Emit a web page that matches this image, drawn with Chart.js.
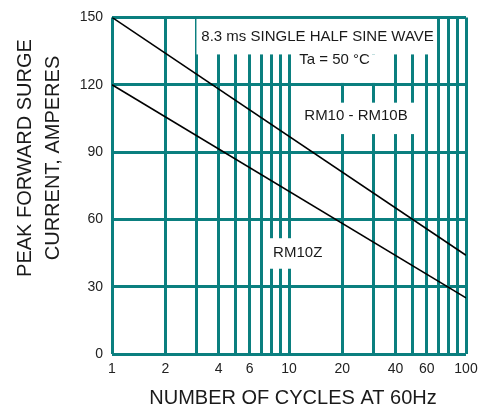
<!DOCTYPE html>
<html>
<head>
<meta charset="utf-8">
<script src="https://cdn.jsdelivr.net/npm/chart.js@4"></script>
<style>
html,body{margin:0;padding:0;background:#fff;}
#wrap{width:488px;height:412px;}
</style>
</head>
<body>
<div id="wrap"><canvas id="c" width="488" height="412"></canvas></div>
<script>
// ---- data ----
const cycles = [1, 100];
const rm10_rm10b = [150, 44];
const rm10z = [120, 25];
const xGridValues = [1, 2, 3, 4, 5, 6, 7, 8, 9, 10, 20, 30, 40, 50, 60, 70, 80, 90, 100];
const xTickLabels = [1, 2, 4, 6, 10, 20, 40, 60, 100];
const yTicks = [0, 30, 60, 90, 120, 150];
const seriesNames = ['RM10 - RM10B', 'RM10Z'];
const yTitle = ['PEAK FORWARD SURGE', 'CURRENT, AMPERES'];
const xTitle = 'NUMBER OF CYCLES AT 60Hz';
const noteLines = ['8.3 ms SINGLE HALF SINE WAVE', 'Ta = 50 \u00B0C'];

const TEAL = '#0b7f7f';
const FONT = "'Liberation Sans', Arial, sans-serif";

// annotation boxes (data coords): [xMin, xMax, yMin, yMax]
const whiteBoxes = [
  [3.0, 68, 133.5, 149.3],
  [11, 36, 120.8, 133.5],
  [11.5, 57, 98, 112],
  [7.4, 16.5, 38, 51.6]
];
// label anchors (data coords)
const labels = [
  {text: noteLines[0], x: 14.5, y: 141.2},
  {text: noteLines[1], x: 18.1, y: 131},
  {text: seriesNames[0], x: 23.9, y: 106},
  {text: seriesNames[1], x: 11.2, y: 45}
];

const annot = {
  id: 'annot',
  beforeDatasetsDraw(chart) {
    const {ctx, scales: {x, y}} = chart;
    ctx.save();
    ctx.fillStyle = '#fff';
    whiteBoxes.forEach(b => {
      const x0 = x.getPixelForValue(b[0]), x1 = x.getPixelForValue(b[1]);
      const y0 = y.getPixelForValue(b[3]), y1 = y.getPixelForValue(b[2]);
      ctx.fillRect(x0, y0, x1 - x0, y1 - y0);
    });
    ctx.restore();
  },
  afterDatasetsDraw(chart) {
    const {ctx, scales: {x, y}} = chart;
    ctx.save();
    ctx.fillStyle = '#1a1a1a';
    ctx.textAlign = 'center';
    ctx.textBaseline = 'middle';
    ctx.font = '15px ' + FONT;
    labels.forEach(l => {
      ctx.fillText(l.text, x.getPixelForValue(l.x), y.getPixelForValue(l.y));
    });
    // axis titles
    ctx.font = '20px ' + FONT;
    ctx.fillText(xTitle, 293, 398);
    ctx.translate(39, 158);
    ctx.rotate(-Math.PI / 2);
    ctx.fillText(yTitle[0], 0, -14);
    ctx.fillText(yTitle[1], 0, 14);
    ctx.restore();
  }
};

new Chart(document.getElementById('c'), {
  type: 'line',
  data: {
    datasets: [
      {label: seriesNames[0], data: cycles.map((c, i) => ({x: c, y: rm10_rm10b[i]})),
       borderColor: '#000', borderWidth: 1.6, pointRadius: 0, fill: false, tension: 0},
      {label: seriesNames[1], data: cycles.map((c, i) => ({x: c, y: rm10z[i]})),
       borderColor: '#000', borderWidth: 1.6, pointRadius: 0, fill: false, tension: 0}
    ]
  },
  options: {
    responsive: false,
    animation: false,
    layout: {padding: {left: 0, top: 14, right: 22, bottom: 0}},
    plugins: {legend: {display: false}, tooltip: {enabled: false}},
    scales: {
      x: {
        type: 'logarithmic', min: 1, max: 100,
        afterBuildTicks: s => { s.ticks = xGridValues.map(v => ({value: v, major: false})); },
        grid: {color: TEAL, lineWidth: 3, drawTicks: false},
        border: {display: false},
        ticks: {
          autoSkip: false, maxRotation: 0, padding: 7,
          color: '#222', font: {family: FONT, size: 14},
          callback: v => xTickLabels.includes(Number(v)) ? String(v) : ''
        },
        afterFit: s => { s.height = 58; }
      },
      y: {
        type: 'linear', min: 0, max: 150,
        afterBuildTicks: s => { s.ticks = yTicks.map(v => ({value: v})); },
        grid: {color: TEAL, lineWidth: 3, drawTicks: false},
        border: {display: false},
        ticks: {padding: 9, color: '#222', font: {family: FONT, size: 14}},
        afterFit: s => { s.width = 112; }
      }
    }
  },
  plugins: [annot]
});
</script>
</body>
</html>
